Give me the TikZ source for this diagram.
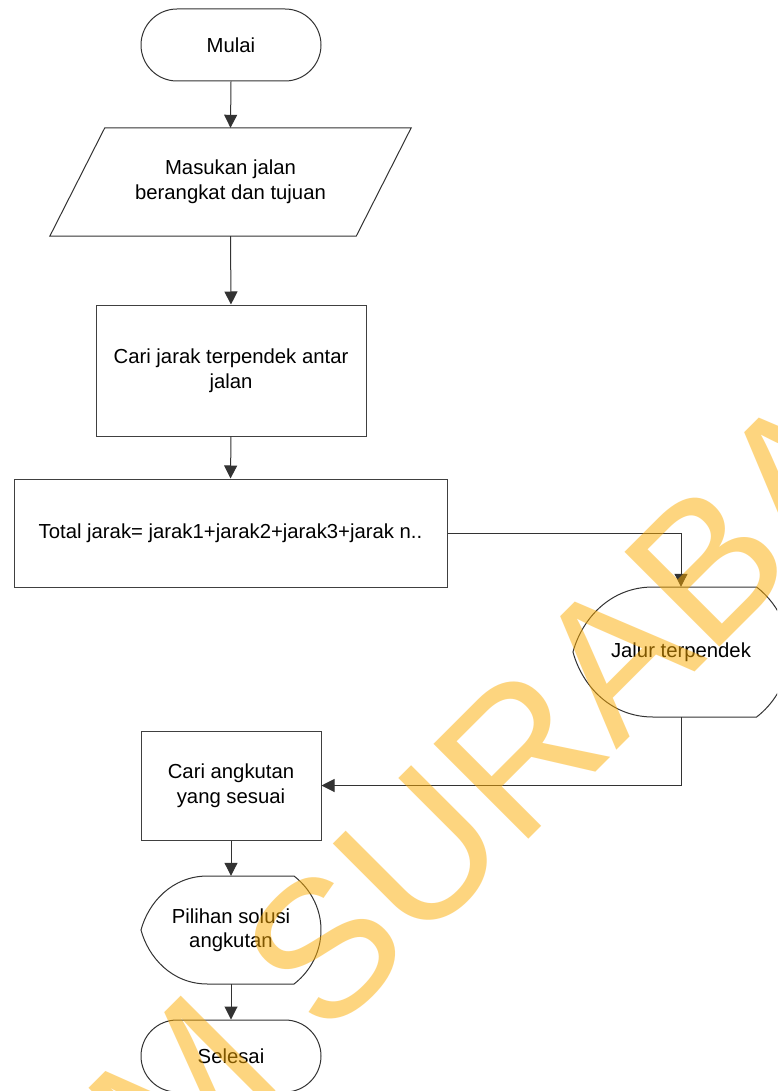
\documentclass[tikz,border=0pt]{standalone}
\usepackage{fontspec}
\setmainfont{Liberation Sans}
\usetikzlibrary{arrows.meta,calc}
\definecolor{wmark}{RGB}{253,172,0}

% Display-shape outline: centre (#1,#2), width #3, height #4
\newcommand\dispshape[4]{%
  \draw[edge] ({#1-0.13*#3},{#2-#4/2}) -- ({#1+0.35*#3},{#2-#4/2})
    arc[start angle=50.3, end angle=-50.3, x radius={0.4155*#3pt}, y radius={0.65*#4pt}]
    -- ({#1-0.13*#3},{#2+#4/2})
    .. controls ({#1-0.33*#3},{#2+#4/2}) and ({#1-0.46*#3},{#2+0.25*#4}) .. ({#1-0.5*#3},#2)
    .. controls ({#1-0.46*#3},{#2-0.25*#4}) and ({#1-0.33*#3},{#2-#4/2}) .. cycle;}

\begin{document}
\begin{tikzpicture}[x=1pt,y=-1pt,
  every node/.style={font=\fontsize{20.3pt}{24.5pt}\selectfont, align=center, inner sep=0pt},
  edge/.style={draw=black!80, line width=1pt},
  flow/.style={edge, -{Triangle[length=13pt,width=13pt]}},
  procbox/.style={draw=black!75, line width=1pt, rectangle},
  term/.style={draw=black!80, line width=1pt, rectangle, rounded corners=36pt,
               minimum width=180pt, minimum height=72pt}]

\useasboundingbox (0,0) rectangle (777,1091);
\fill[white] (0,0) rectangle (777,1091);
\clip (0,0) rectangle (777,1091);

% flow steps
\node[term] (mulai) at (231,45) {Mulai};

\node[minimum width=306pt, minimum height=108pt] (masuk) at (230.5,182)
  {Masukan jalan\\berangkat dan tujuan};
\draw[edge] ($(masuk.north west)+(27.5,0)$) -- ($(masuk.north east)+(27.5,0)$)
  -- ($(masuk.south east)-(27.5,0)$) -- ($(masuk.south west)-(27.5,0)$) -- cycle;

\node[procbox, minimum width=270pt, minimum height=131pt] (jarak) at (231,370.5)
  {Cari jarak terpendek antar\\jalan};

\node[procbox, minimum width=433pt, minimum height=108pt] (total) at (230.5,533)
  {Total jarak= jarak1+jarak2+jarak3+jarak n..};

\node[minimum width=216pt, minimum height=130pt] (jalur) at (681,652) {Jalur terpendek};
\dispshape{681}{652}{216}{130}

\node[procbox, minimum width=180pt, minimum height=109pt] (angkut) at (231,785.5)
  {Cari angkutan\\yang sesuai};

\node[minimum width=180pt, minimum height=108pt] (solusi) at (231,930)
  {Pilihan solusi\\angkutan};
\dispshape{231}{930}{180}{108}

\node[term] (selesai) at (231,1056) {Selesai};

% connectors
\draw[flow] (mulai.south) -- (masuk.north);
\draw[flow] (masuk.south) -- (jarak.north);
\draw[flow] (jarak.south) -- (total.north);
\draw[flow] (total.east) -| (jalur.north);
\draw[flow] (jalur.south) |- (angkut.east);
\draw[flow] (angkut.south) -- (solusi.north);
\draw[flow] (solusi.south) -- (selesai.north);

% diagonal watermark
\node[font=\fontsize{195pt}{195pt}\selectfont, text=wmark, opacity=0.5, rotate=45,
      anchor=base west, align=left] (wm) at (-241.4,1608.6) {STIKOM SURABAYA};

\end{tikzpicture}
\end{document}
